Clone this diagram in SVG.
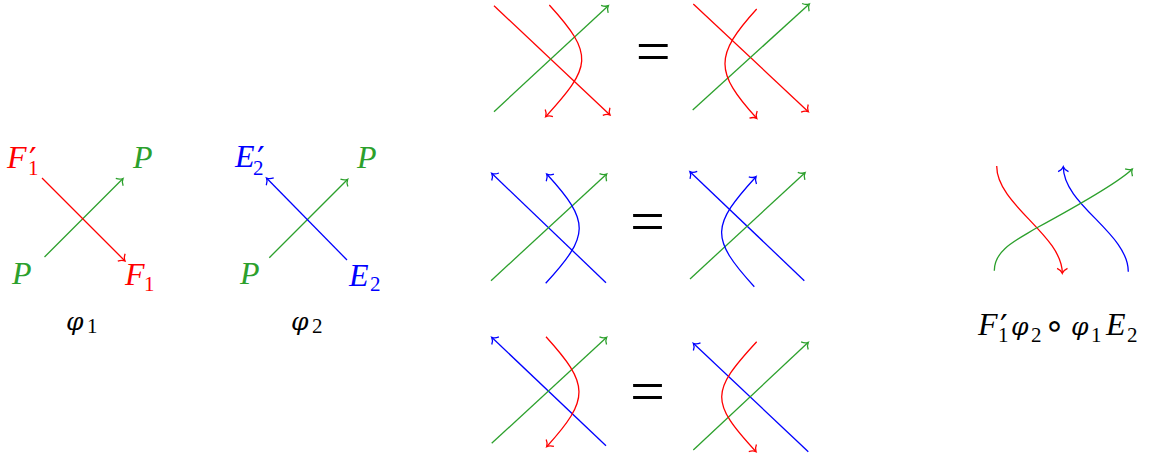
<svg xmlns="http://www.w3.org/2000/svg" width="1168" height="458" viewBox="0 0 1168 458">
<style>
.s{fill:none;stroke-width:1.3;stroke-linecap:butt}
.r{stroke:#ff0000}
.g{stroke:#2ca02c}
.b{stroke:#0000ff}
.ar{marker-end:url(#ahr)}
.ag{marker-end:url(#ahg)}
.ab{marker-end:url(#ahb)}
text{font-family:"Liberation Serif","Times New Roman",serif}
.v{font-style:italic;font-size:32px}
.ph{font-family:"DejaVu Serif",serif;font-style:italic;font-size:25px}
.pr{font-family:"DejaVu Sans",sans-serif;font-size:34px}
.d{font-size:21px}
.op{font-family:"DejaVu Sans",sans-serif;font-size:34px}
.tr{fill:#ff0000}.tg{fill:#2ca02c}.tb{fill:#0000ff}.tk{fill:#000}
.eq{font-size:62px;text-anchor:middle;fill:#000}
</style>
<defs>
<marker id="ahr" viewBox="-7 -7 9 14" refX="0" refY="0" markerWidth="9" markerHeight="14" orient="auto" markerUnits="userSpaceOnUse"><path d="M-5,-5.2 C-3.6,-2.2 -1.3,-0.5 0,0 C-1.3,0.5 -3.6,2.2 -5,5.2" fill="none" stroke="#ff0000" stroke-width="1.3"/></marker>
<marker id="ahg" viewBox="-7 -7 9 14" refX="0" refY="0" markerWidth="9" markerHeight="14" orient="auto" markerUnits="userSpaceOnUse"><path d="M-5,-5.2 C-3.6,-2.2 -1.3,-0.5 0,0 C-1.3,0.5 -3.6,2.2 -5,5.2" fill="none" stroke="#2ca02c" stroke-width="1.3"/></marker>
<marker id="ahb" viewBox="-7 -7 9 14" refX="0" refY="0" markerWidth="9" markerHeight="14" orient="auto" markerUnits="userSpaceOnUse"><path d="M-5,-5.2 C-3.6,-2.2 -1.3,-0.5 0,0 C-1.3,0.5 -3.6,2.2 -5,5.2" fill="none" stroke="#0000ff" stroke-width="1.3"/></marker>
</defs>

<g id="connectors">
  <!-- phi1 -->
  <path class="s g ag" d="M44.5,257 L123,178.5"/>
  <path class="s r ar" d="M42,178 L125,261"/>
  <!-- phi2 -->
  <path class="s g ag" d="M269.3,257.7 L347.7,179.3"/>
  <path class="s b ab" d="M347,260 L266.5,178"/>
  <!-- row 1 left -->
  <path class="s r ar" d="M494,5.7 L610,115"/>
  <path class="s g ag" d="M494,111.7 L608.3,5.7"/>
  <path class="s r ar" d="M549.3,5 C594.9,55 591.3,66.7 545.7,116.7"/>
  <!-- row 1 right -->
  <path class="s r ar" d="M693.3,4 L808.3,111.7"/>
  <path class="s g ag" d="M692.7,110 L809.3,4"/>
  <path class="s r ar" d="M756.7,9 C714.4,55.5 714.4,71.8 756.7,118.3"/>
  <!-- row 2 left -->
  <path class="s b ab" d="M606,282.7 L491.7,173.3"/>
  <path class="s g ag" d="M491,280.7 L606.7,174"/>
  <path class="s b ab" d="M545.7,283.3 C589.7,235.3 590.7,222 546.7,174"/>
  <!-- row 2 right -->
  <path class="s b ab" d="M804.3,280.7 L690,171.7"/>
  <path class="s g ag" d="M690,279 L805,172.7"/>
  <path class="s b ab" d="M754.3,286.7 C709.6,237.7 711.3,225.7 756,176.7"/>
  <!-- row 3 left -->
  <path class="s b ab" d="M606,445.7 L491.7,337.3"/>
  <path class="s g ag" d="M491.7,443.3 L606.7,337.3"/>
  <path class="s r ar" d="M546,336.7 C589.5,384.7 590.2,398.7 546.7,446.7"/>
  <!-- row 3 right -->
  <path class="s b ab" d="M808.3,451.7 L693.3,343.3"/>
  <path class="s g ag" d="M693.3,450 L808.3,342.3"/>
  <path class="s r ar" d="M756.7,341.7 C710.5,391.7 709.8,401.7 756,451.7"/>
  <!-- right composite -->
  <path class="s r ar" d="M996.7,166 C996.7,205 1062.3,235 1062.3,273.3"/>
  <path class="s b ab" d="M1128.3,271.7 C1128.3,233 1063.3,205 1063.3,166.7"/>
  <path class="s g ag" d="M994.3,270.7 C994.3,250 1016,240.3 1036,228.3 C1066,212 1118.3,183 1132.3,169"/>
</g>

<g id="phi1-labels">
  <text class="tr"><tspan class="v" x="7" y="168">F</tspan><tspan class="pr" x="29" y="172">′</tspan><tspan class="d" x="28" y="175">1</tspan></text>
  <text class="v tg" x="133" y="168">P</text>
  <text class="v tg" x="12" y="284">P</text>
  <text class="tr"><tspan class="v" x="125" y="285">F</tspan><tspan class="d" x="144" y="291">1</tspan></text>
  <text class="tk"><tspan class="ph" x="66" y="330">φ</tspan><tspan class="d" x="87" y="333">1</tspan></text>
</g>

<g id="phi2-labels">
  <text class="tb"><tspan class="v" x="235" y="167">E</tspan><tspan class="pr" x="257" y="171">′</tspan><tspan class="d" x="253" y="175">2</tspan></text>
  <text class="v tg" x="357" y="168">P</text>
  <text class="v tg" x="240" y="284">P</text>
  <text class="tb"><tspan class="v" x="349" y="286">E</tspan><tspan class="d" x="370" y="291">2</tspan></text>
  <text class="tk"><tspan class="ph" x="291" y="330">φ</tspan><tspan class="d" x="312" y="333">2</tspan></text>
</g>

<g id="equals">
  <text class="eq" x="653.3" y="72">=</text>
  <text class="eq" x="647.5" y="242">=</text>
  <text class="eq" x="647.5" y="412">=</text>
</g>

<g id="composite-label">
  <text class="tk"><tspan class="v" x="978" y="335">F</tspan><tspan class="pr" x="1000" y="339">′</tspan><tspan class="d" x="998" y="342">1</tspan><tspan class="ph" x="1011" y="335">φ</tspan><tspan class="d" x="1031" y="342">2</tspan><tspan class="op" x="1044" y="337">∘</tspan><tspan class="ph" x="1071" y="335">φ</tspan><tspan class="d" x="1091" y="342">1</tspan><tspan class="v" x="1106" y="335">E</tspan><tspan class="d" x="1127" y="342">2</tspan></text>
</g>
</svg>
